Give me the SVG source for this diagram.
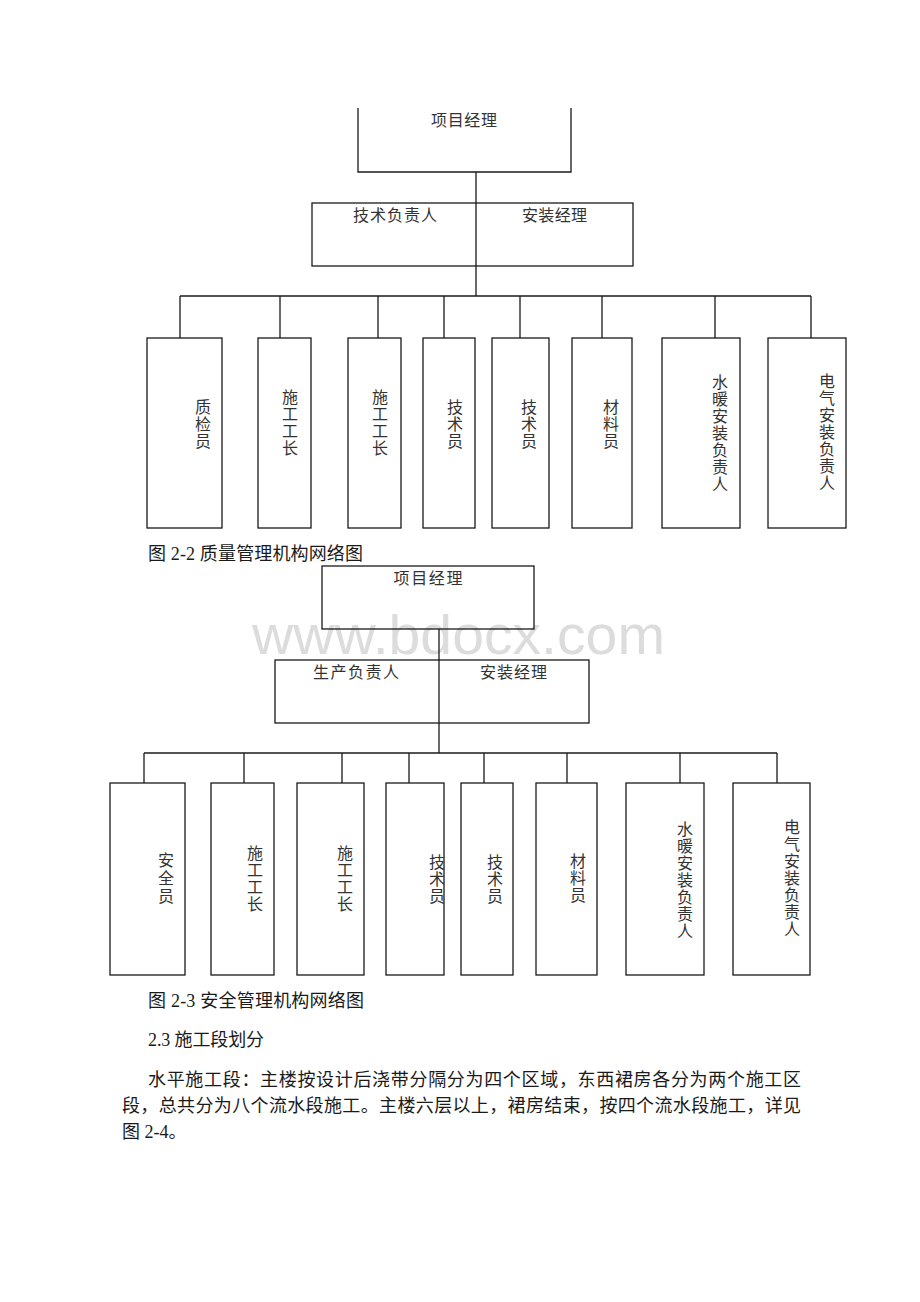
<svg xmlns="http://www.w3.org/2000/svg" width="920" height="1302" viewBox="0 0 920 1302">
<style>
.box{fill:none;stroke:#1a1a1a;stroke-width:1.3}
.conn{fill:none;stroke:#1a1a1a;stroke-width:1.3}
.lbl{font-family:"Noto Sans CJK SC",sans-serif;font-size:16px;fill:#333}
.vl{font-family:"Noto Sans CJK SC",sans-serif;font-size:16px;fill:#333;writing-mode:vertical-rl;text-orientation:upright;letter-spacing:1px}
.body{font-family:"Liberation Serif","Noto Sans CJK SC",serif;font-size:18px;fill:#1a1a1a}
.wm{font-family:"Liberation Sans",Arial,sans-serif;font-size:56px;fill:#dcdcdc}
</style>
<rect width="920" height="1302" fill="#fff"/>
<text class="wm" x="252" y="654" textLength="413" lengthAdjust="spacingAndGlyphs">www.bdocx.com</text>

<!-- Chart 2-2 -->
<g id="connectors-1">
<path class="conn" d="M476,172 V296"/>
<path class="conn" d="M180,296 H811"/>
<path class="conn" d="M180,296 V338 M280,296 V338 M378,296 V338 M444,296 V338 M520,296 V338 M602,296 V338 M715,296 V338 M811,296 V338"/>
</g>
<g id="c1-pm">
<path class="box" d="M358,108 V172 H571 V108"/>
<text class="lbl" x="464" y="126" text-anchor="middle" textLength="66">项目经理</text>
</g>
<g id="c1-mid">
<rect class="box" x="312" y="203" width="321" height="63"/>
<text class="lbl" x="353" y="221" textLength="84">技术负责人</text>
<text class="lbl" x="522" y="221" textLength="65">安装经理</text>
</g>
<g id="c1-n1"><rect class="box" x="147" y="338" width="75" height="190"/><text class="vl" x="203" y="399">质检员</text></g>
<g id="c1-n2"><rect class="box" x="258" y="338" width="53" height="190"/><text class="vl" x="290" y="389">施工工长</text></g>
<g id="c1-n3"><rect class="box" x="348" y="338" width="53" height="190"/><text class="vl" x="380" y="389">施工工长</text></g>
<g id="c1-n4"><rect class="box" x="423" y="338" width="52" height="190"/><text class="vl" x="455" y="399">技术员</text></g>
<g id="c1-n5"><rect class="box" x="492" y="338" width="57" height="190"/><text class="vl" x="529" y="399">技术员</text></g>
<g id="c1-n6"><rect class="box" x="572" y="338" width="60" height="190"/><text class="vl" x="611" y="399">材料员</text></g>
<g id="c1-n7"><rect class="box" x="662" y="338" width="78" height="190"/><text class="vl" x="720" y="374">水暖安装负责人</text></g>
<g id="c1-n8"><rect class="box" x="768" y="338" width="78" height="190"/><text class="vl" x="827" y="373">电气安装负责人</text></g>

<text class="body" x="148" y="560" textLength="215">图 2-2 质量管理机构网络图</text>

<!-- Chart 2-3 -->
<g id="connectors-2">
<path class="conn" d="M439,629 V753"/>
<path class="conn" d="M144,753 H777"/>
<path class="conn" d="M144,753 V783 M244,753 V783 M342,753 V783 M409,753 V783 M484,753 V783 M567,753 V783 M680,753 V783 M777,753 V783"/>
</g>
<g id="c2-pm">
<rect class="box" x="322" y="566" width="212" height="63"/>
<text class="lbl" x="428" y="584" text-anchor="middle" textLength="69">项目经理</text>
</g>
<g id="c2-mid">
<rect class="box" x="275" y="660" width="314" height="63"/>
<text class="lbl" x="313" y="678" textLength="86">生产负责人</text>
<text class="lbl" x="480" y="678" textLength="67">安装经理</text>
</g>
<g id="c2-n1"><rect class="box" x="110" y="783" width="75" height="192"/><text class="vl" x="166" y="852" style="letter-spacing:2px">安全员</text></g>
<g id="c2-n2"><rect class="box" x="211" y="783" width="63" height="192"/><text class="vl" x="255" y="845">施工工长</text></g>
<g id="c2-n3"><rect class="box" x="297" y="783" width="67" height="192"/><text class="vl" x="345" y="845">施工工长</text></g>
<g id="c2-n4"><rect class="box" x="386" y="783" width="58" height="192"/><text class="vl" x="437" y="854">技术员</text></g>
<g id="c2-n5"><rect class="box" x="461" y="783" width="52" height="192"/><text class="vl" x="495" y="854">技术员</text></g>
<g id="c2-n6"><rect class="box" x="536" y="783" width="61" height="192"/><text class="vl" x="578" y="853">材料员</text></g>
<g id="c2-n7"><rect class="box" x="626" y="783" width="78" height="192"/><text class="vl" x="685" y="821">水暖安装负责人</text></g>
<g id="c2-n8"><rect class="box" x="733" y="783" width="77" height="192"/><text class="vl" x="792" y="819">电气安装负责人</text></g>

<text class="body" x="148" y="1007" textLength="216">图 2-3 安全管理机构网络图</text>
<text class="body" x="148" y="1046" textLength="116">2.3 施工段划分</text>
<text class="body" x="148" y="1086" textLength="653">水平施工段：主楼按设计后浇带分隔分为四个区域，东西裙房各分为两个施工区</text>
<text class="body" x="122" y="1112" textLength="679">段，总共分为八个流水段施工。主楼六层以上，裙房结束，按四个流水段施工，详见</text>
<text class="body" x="122" y="1138">图 2-4。</text>
</svg>
